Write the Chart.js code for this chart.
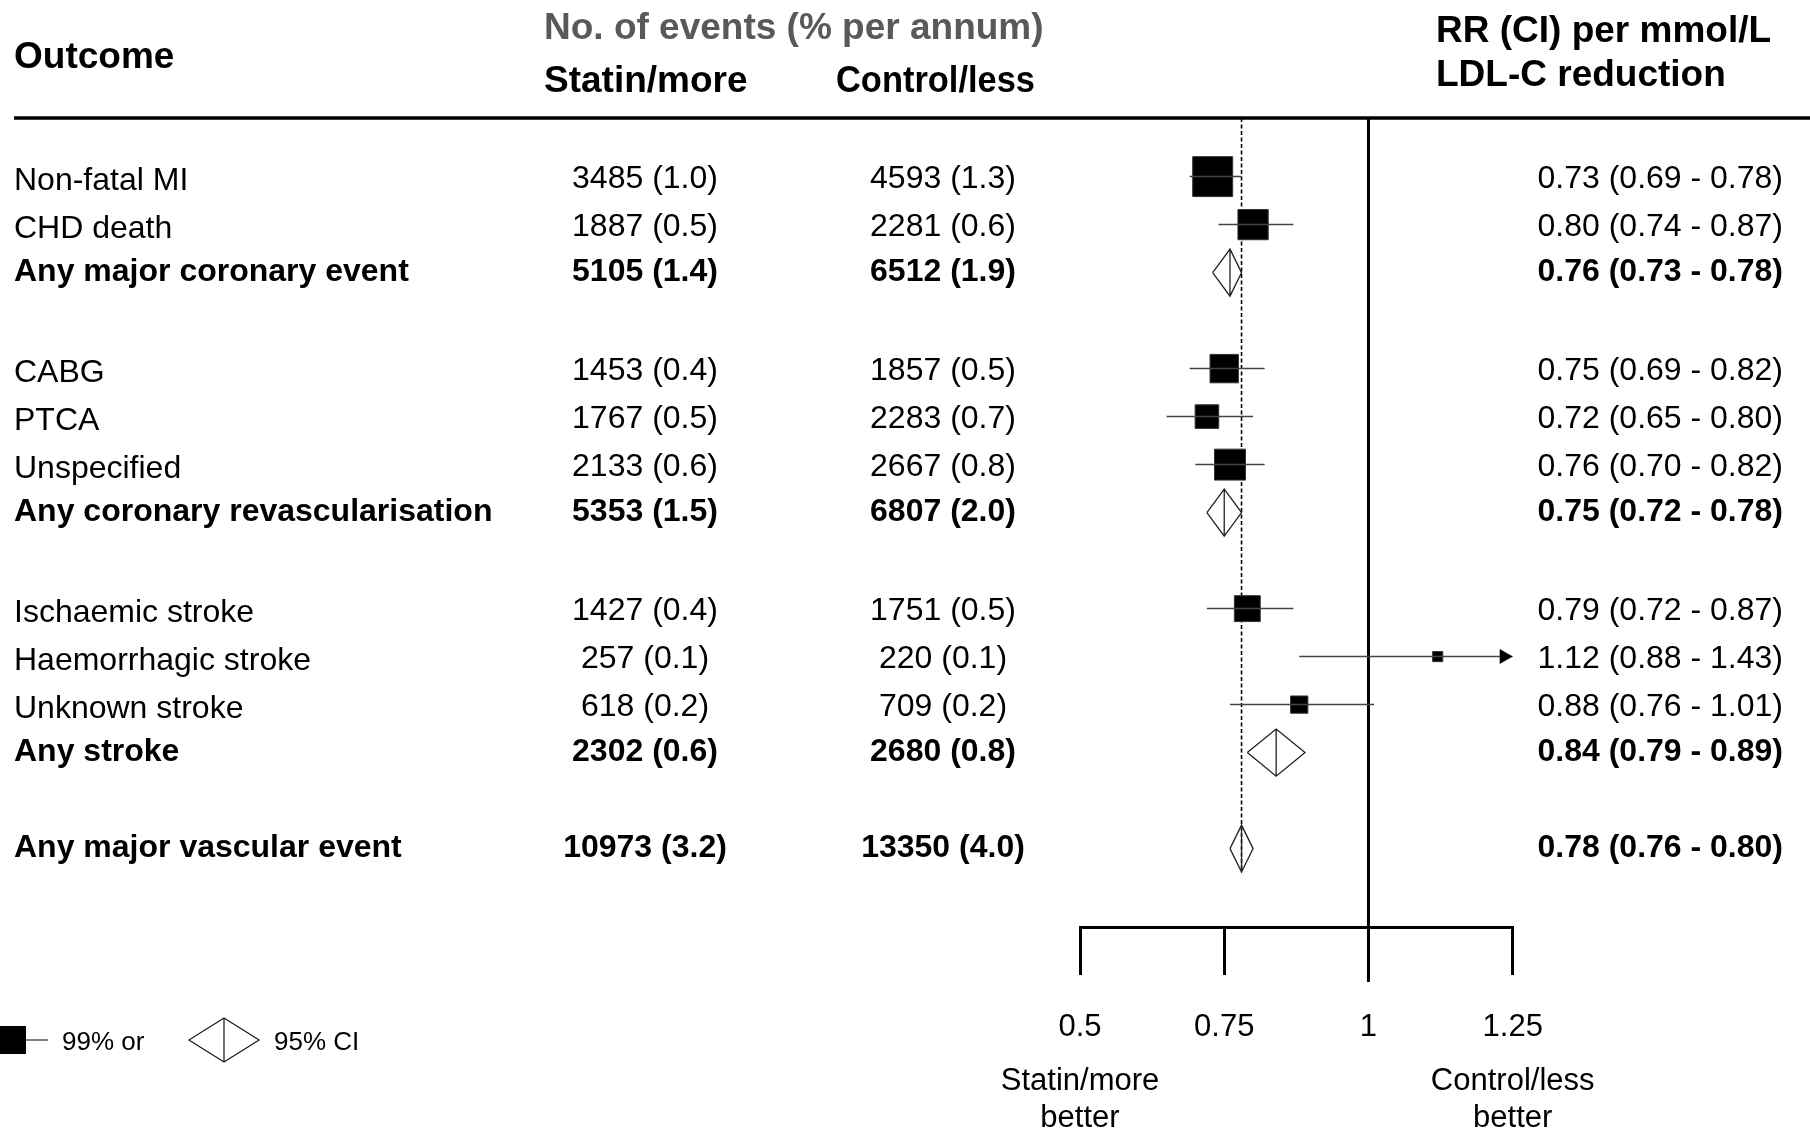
<!DOCTYPE html>
<html>
<head>
<meta charset="utf-8">
<title>LDL-C reduction and vascular outcomes</title>
<script src="https://cdn.jsdelivr.net/npm/chart.js@4.4.1/dist/chart.umd.min.js"></script>
<style>
  html, body { margin: 0; padding: 0; background: #fff; }
  canvas { display: block; }
</style>
</head>
<body>
<canvas id="chart" width="1810" height="1131"></canvas>
<script>
// one entry per table row; '' marks a spacer row between groups
const outcomes = ['Non-fatal MI', 'CHD death', 'Any major coronary event', '',
    'CABG', 'PTCA', 'Unspecified', 'Any coronary revascularisation', '',
    'Ischaemic stroke', 'Haemorrhagic stroke', 'Unknown stroke', 'Any stroke', '',
    'Any major vascular event'];
const isSummary = [false, false, true, false, false, false, false, true, false, false, false, false, true, false, true];

const statinEvents = [3485, 1887, 5105, null, 1453, 1767, 2133, 5353, null, 1427, 257, 618, 2302, null, 10973];
const statinRate = [1.0, 0.5, 1.4, null, 0.4, 0.5, 0.6, 1.5, null, 0.4, 0.1, 0.2, 0.6, null, 3.2];
const controlEvents = [4593, 2281, 6512, null, 1857, 2283, 2667, 6807, null, 1751, 220, 709, 2680, null, 13350];
const controlRate = [1.3, 0.6, 1.9, null, 0.5, 0.7, 0.8, 2.0, null, 0.5, 0.1, 0.2, 0.8, null, 4.0];

const rr = [0.73, 0.80, 0.76, null, 0.75, 0.72, 0.76, 0.75, null, 0.79, 1.12, 0.88, 0.84, null, 0.78];
const ciLow = [0.69, 0.74, 0.73, null, 0.69, 0.65, 0.70, 0.72, null, 0.72, 0.88, 0.76, 0.79, null, 0.76];
const ciHigh = [0.78, 0.87, 0.78, null, 0.82, 0.80, 0.82, 0.78, null, 0.87, 1.43, 1.01, 0.89, null, 0.80];

const axisTicks = [0.5, 0.75, 1, 1.25];
const tickLabels = ['0.5', '0.75', '1', '1.25'];

const FONT = '"Liberation Sans", Arial, Helvetica, sans-serif';
const NULL_EFFECT = 1;
const DIAMOND_HALF = 0.49;   // half height of a summary diamond, in rows
const BOX_SCALE = 4.9;       // square side in px = BOX_SCALE / ln(upper / lower)
const X_MAX = axisTicks[axisTicks.length - 1];
const overallRow = outcomes.length - 1;

Chart.defaults.font.family = FONT;

// build the marks: CI lines and squares for single outcomes, diamonds for totals
const ciPoints = [];
const boxPoints = [];
const diamondPoints = [];
const gap = { x: null, y: null };
outcomes.forEach(function(name, i) {
    if (rr[i] == null) return;
    if (isSummary[i]) {
        diamondPoints.push(
            { x: ciLow[i], y: i }, { x: rr[i], y: i - DIAMOND_HALF },
            { x: ciHigh[i], y: i }, { x: rr[i], y: i + DIAMOND_HALF },
            { x: ciLow[i], y: i }, gap,
            { x: rr[i], y: i - DIAMOND_HALF }, { x: rr[i], y: i + DIAMOND_HALF }, gap);
    } else {
        ciPoints.push({ x: ciLow[i], y: i }, { x: Math.min(ciHigh[i], X_MAX), y: i }, gap);
        boxPoints.push({ x: rr[i], y: i, side: BOX_SCALE / Math.log(ciHigh[i] / ciLow[i]) });
    }
});

// canvas 'middle' sits a little high for this face, nudge it down
function txt(ctx, s, x, y, size, weight, align, color, maxW) {
    ctx.font = (weight || 'normal') + ' ' + size + 'px ' + FONT;
    ctx.textAlign = align || 'left';
    ctx.textBaseline = 'middle';
    ctx.fillStyle = color || '#000';
    if (maxW) ctx.fillText(s, x, y + 3, maxW);
    else ctx.fillText(s, x, y + 3);
}

const forestDecor = {
    id: 'forestDecor',
    beforeDatasetsDraw(chart) {
        const ctx = chart.ctx;
        const xs = chart.scales.x, ys = chart.scales.y;
        const top = chart.chartArea.top;
        ctx.save();
        // header rule
        ctx.strokeStyle = '#000';
        ctx.lineWidth = 3.5;
        ctx.beginPath();
        ctx.moveTo(14, top);
        ctx.lineTo(1810, top);
        ctx.stroke();
        // line of no effect
        const x1 = xs.getPixelForValue(NULL_EFFECT);
        ctx.lineWidth = 3;
        ctx.beginPath();
        ctx.moveTo(x1, top);
        ctx.lineTo(x1, 982);
        ctx.stroke();
        // dashed line through the overall estimate
        const xo = xs.getPixelForValue(rr[overallRow]);
        ctx.lineWidth = 1.6;
        ctx.setLineDash([4, 2.5]);
        ctx.beginPath();
        ctx.moveTo(xo, top);
        ctx.lineTo(xo, ys.getPixelForValue(overallRow + DIAMOND_HALF));
        ctx.stroke();
        ctx.restore();
    },
    afterDraw(chart) {
        const ctx = chart.ctx;
        const xs = chart.scales.x, ys = chart.scales.y;
        ctx.save();

        // arrows where the CI runs past the axis
        outcomes.forEach(function(name, i) {
            if (ciHigh[i] == null || ciHigh[i] <= X_MAX) return;
            const tip = xs.getPixelForValue(X_MAX), y = ys.getPixelForValue(i);
            ctx.fillStyle = '#000';
            ctx.beginPath();
            ctx.moveTo(tip, y);
            ctx.lineTo(tip - 13, y - 7.5);
            ctx.lineTo(tip - 13, y + 7.5);
            ctx.closePath();
            ctx.fill();
        });

        // headers
        txt(ctx, 'Outcome', 14, 55, 37, 'bold');
        txt(ctx, 'No. of events (% per annum)', 544, 26, 37, 'bold', 'left', '#595959');
        txt(ctx, 'Statin/more', 544, 79, 37, 'bold');
        txt(ctx, 'Control/less', 836, 79, 37, 'bold', 'left', '#000', 199);
        txt(ctx, 'RR (CI) per mmol/L', 1436, 29, 37, 'bold');
        txt(ctx, 'LDL-C reduction', 1436, 73, 37, 'bold');

        // table columns; totals sit a touch higher, single outcomes' names a touch lower
        outcomes.forEach(function(name, i) {
            if (!name) return;
            const w = isSummary[i] ? 'bold' : 'normal';
            const y = ys.getPixelForValue(i) + (isSummary[i] ? -3 : 0);
            txt(ctx, name, 14, isSummary[i] ? y : y + 2, 32, w);
            txt(ctx, statinEvents[i] + ' (' + statinRate[i].toFixed(1) + ')', 645, y, 32, w, 'center');
            txt(ctx, controlEvents[i] + ' (' + controlRate[i].toFixed(1) + ')', 943, y, 32, w, 'center');
            txt(ctx, rr[i].toFixed(2) + ' (' + ciLow[i].toFixed(2) + ' - ' + ciHigh[i].toFixed(2) + ')', 1783, y, 32, w, 'right');
        });

        // direction labels under the axis ends
        const xl = xs.getPixelForValue(axisTicks[0]);
        const xr = xs.getPixelForValue(X_MAX);
        txt(ctx, 'Statin/more', xl, 1078, 31, 'normal', 'center');
        txt(ctx, 'better', xl, 1115, 31, 'normal', 'center');
        txt(ctx, 'Control/less', xr, 1078, 31, 'normal', 'center');
        txt(ctx, 'better', xr, 1115, 31, 'normal', 'center');

        // key
        ctx.fillStyle = '#000';
        ctx.fillRect(-1, 1026, 27, 28);
        ctx.strokeStyle = '#555';
        ctx.lineWidth = 1.5;
        ctx.beginPath();
        ctx.moveTo(26, 1040);
        ctx.lineTo(48, 1040);
        ctx.stroke();
        txt(ctx, '99% or', 62, 1040, 26);
        ctx.strokeStyle = '#222';
        ctx.lineWidth = 1.3;
        ctx.beginPath();
        ctx.moveTo(189, 1040);
        ctx.lineTo(224, 1018);
        ctx.lineTo(259, 1040);
        ctx.lineTo(224, 1062);
        ctx.closePath();
        ctx.moveTo(224, 1018);
        ctx.lineTo(224, 1062);
        ctx.stroke();
        txt(ctx, '95% CI', 274, 1040, 26);

        ctx.restore();
    }
};

new Chart(document.getElementById('chart'), {
    type: 'scatter',
    data: {
        datasets: [
            {
                label: 'CI',
                data: ciPoints,
                showLine: true,
                spanGaps: false,
                borderColor: '#444',
                borderWidth: 1.5,
                pointRadius: 0
            },
            {
                label: 'Estimate',
                data: boxPoints,
                pointStyle: 'rect',
                pointRadius: c => (c.raw && c.raw.side ? c.raw.side / Math.SQRT2 : 0),
                backgroundColor: '#000',
                borderColor: '#333',
                borderWidth: 1
            },
            {
                label: 'Total',
                data: diamondPoints,
                showLine: true,
                spanGaps: false,
                fill: false,
                borderColor: '#222',
                borderWidth: 1.3,
                pointRadius: 0
            }
        ]
    },
    options: {
        responsive: false,
        animation: false,
        events: [],
        layout: { padding: { left: 1080, right: 297.3, top: 118, bottom: 0 } },
        plugins: { legend: { display: false }, tooltip: { enabled: false } },
        scales: {
            x: {
                type: 'linear',
                min: axisTicks[0],
                max: X_MAX,
                afterBuildTicks: s => { s.ticks = axisTicks.map(v => ({ value: v })); },
                afterFit: s => { s.height = 204; },
                ticks: {
                    callback: v => tickLabels[axisTicks.indexOf(v)],
                    font: { size: 31 },
                    color: '#000',
                    padding: 34,
                    maxRotation: 0,
                    autoSkip: false
                },
                grid: { drawOnChartArea: false, drawTicks: true, tickLength: 48, lineWidth: 3, color: '#000' },
                border: { display: true, width: 3, color: '#000' }
            },
            y: {
                type: 'linear',
                reverse: true,
                min: -1.221,
                max: 15.633,
                display: false
            }
        }
    },
    plugins: [forestDecor]
});
</script>
</body>
</html>
